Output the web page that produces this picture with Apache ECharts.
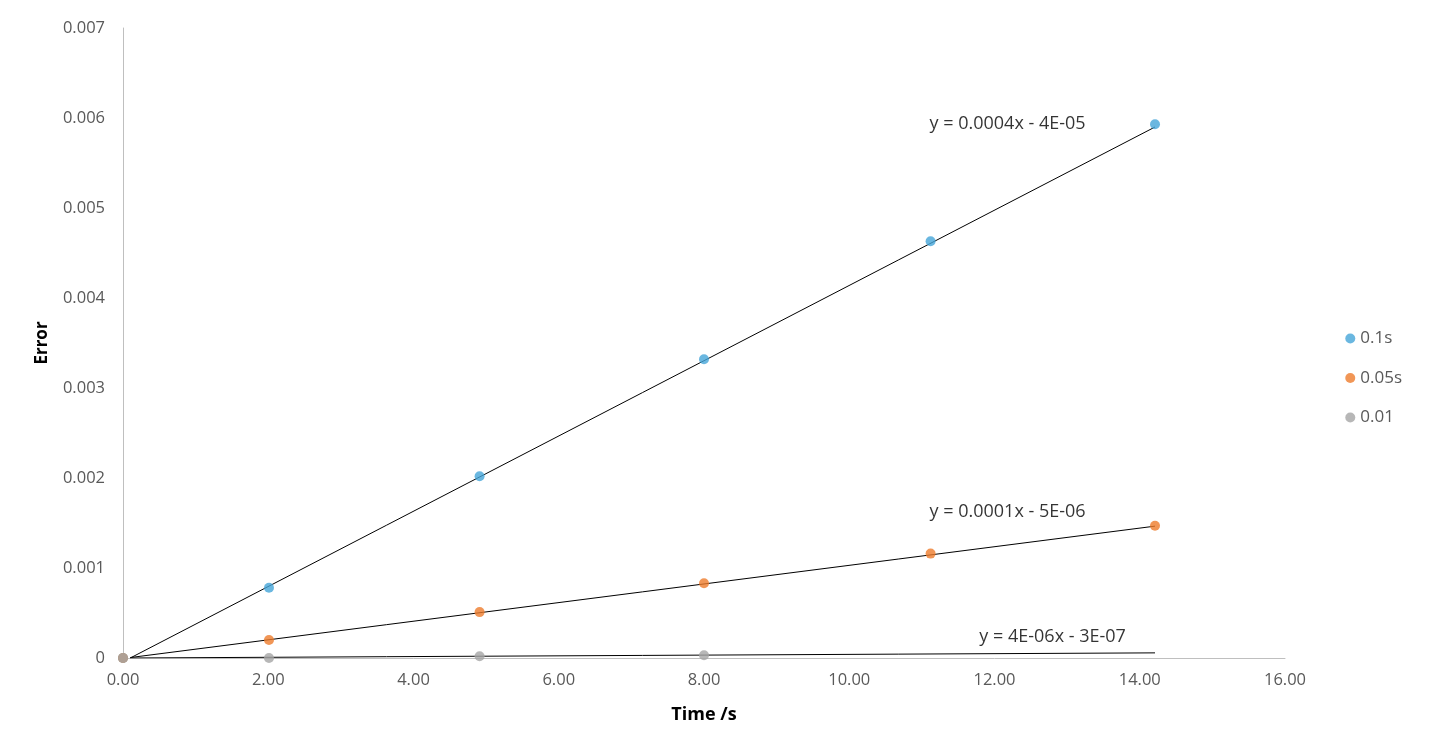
<!DOCTYPE html>
<html><head><meta charset="utf-8">
<script src="https://cdn.jsdelivr.net/npm/echarts@6/dist/echarts.min.js"></script>
<style>html,body{margin:0;padding:0;background:#fff}#c{width:1429px;height:756px}</style>
</head><body><div id="c"></div>
<script>
const timeX = [0, 2.01, 4.91, 8.0, 11.12, 14.21];
const err01 = [0, 0.00078, 0.00202, 0.00332, 0.00463, 0.00593];
const err005 = [0, 0.00020, 0.00051, 0.00083, 0.00116, 0.00147];
const grayX = [0, 2.01, 4.91, 8.0];
const err001 = [0, 0, 0.00002, 0.00003];
const seriesNames = ['0.1s', '0.05s', '0.01'];
const trendX = [0.1, 14.21];
const trend01 = [0.0, 0.00590];
const trend005 = [0.000005, 0.001465];
const trend001 = [0.0000001, 0.000057];
const eqLabels = ['y = 0.0004x - 4E-05', 'y = 0.0001x - 5E-06', 'y = 4E-06x - 3E-07'];
const eqAnchorX = [12.18, 12.18, 12.8];
const eqAnchorY = [0.00594, 0.00162, 0.000233];
const colors = ['#45A5D8', '#EE7C2C', '#A5A5A5'];

const FONT = 'Open Sans';
const pts = (xs, ys) => xs.map((x, i) => [x, ys[i]]);
const trend = (ys) => trendX.map((x, i) => [x, ys[i]]);
const eqSeries = eqLabels.map((t, i) => ({
  type: 'scatter', symbolSize: 0, silent: true, z: 10,
  data: [[eqAnchorX[i], eqAnchorY[i]]],
  label: { show: true, position: 'inside', formatter: t, color: '#000', fontFamily: FONT, fontSize: 18 }
}));

const chart = echarts.init(document.getElementById('c'));
chart.setOption({
  animation: false,
  color: colors,
  textStyle: { fontFamily: FONT },
  grid: { left: 123, right: 144, top: 28, bottom: 98 },
  legend: {
    orient: 'vertical', right: 22, top: 'middle', icon: 'circle', itemWidth: 10, itemHeight: 10,
    itemGap: 22.5, data: seriesNames,
    textStyle: { color: '#595959', fontSize: 17, fontFamily: FONT }
  },
  xAxis: {
    type: 'value', min: 0, max: 16, interval: 2,
    name: 'Time /s', nameLocation: 'middle', nameGap: 48,
    nameTextStyle: { fontWeight: 'bold', fontSize: 18, color: '#000', fontFamily: FONT },
    axisLine: { lineStyle: { color: '#BFBFBF' } }, axisTick: { show: false }, splitLine: { show: false },
    axisLabel: { formatter: v => v.toFixed(2), color: '#595959', fontSize: 16.5, margin: 14, fontFamily: FONT }
  },
  yAxis: {
    type: 'value', min: 0, max: 0.007, interval: 0.001,
    name: 'Error', nameLocation: 'middle', nameGap: 72, nameRotate: 90,
    nameTextStyle: { fontWeight: 'bold', fontSize: 17, color: '#000', fontFamily: FONT },
    axisLine: { show: true, lineStyle: { color: '#BFBFBF' } }, axisTick: { show: false }, splitLine: { show: false },
    axisLabel: { formatter: v => v === 0 ? '0' : v.toFixed(3), color: '#595959', fontSize: 16.5, margin: 18, fontFamily: FONT }
  },
  series: [
    { type: 'line', data: trend(trend01), symbol: 'none', lineStyle: { color: '#000', width: 1 }, silent: true, z: 1 },
    { type: 'line', data: trend(trend005), symbol: 'none', lineStyle: { color: '#000', width: 1 }, silent: true, z: 1 },
    { type: 'line', data: trend(trend001), symbol: 'none', lineStyle: { color: '#000', width: 1 }, silent: true, z: 1 },
    { name: seriesNames[0], type: 'scatter', data: pts(timeX, err01), symbolSize: 10, itemStyle: { color: colors[0] }, z: 3 },
    { name: seriesNames[1], type: 'scatter', data: pts(timeX, err005), symbolSize: 10, itemStyle: { color: colors[1] }, z: 4 },
    { name: seriesNames[2], type: 'scatter', data: pts(grayX, err001), symbolSize: 10, itemStyle: { color: colors[2] }, z: 5 },
    ...eqSeries
  ]
});
</script></body></html>
